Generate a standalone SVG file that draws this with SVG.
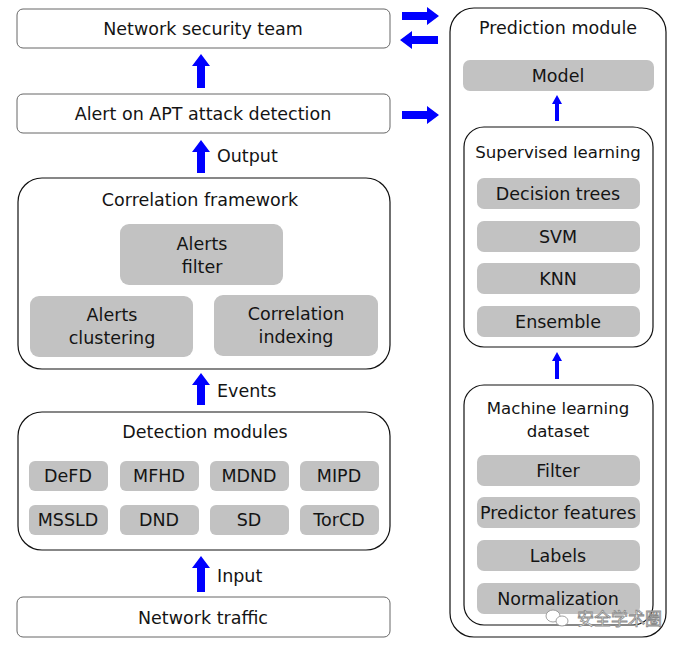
<svg xmlns="http://www.w3.org/2000/svg" width="679" height="648" viewBox="0 0 679 648">
<style>
text{font-family:"DejaVu Sans","Liberation Sans",sans-serif;font-size:17.5px;fill:#141414;text-anchor:middle}
.lbl{text-anchor:start}
.sm{font-size:16.6px}
.wbox{fill:#fff;stroke:#666;stroke-width:1}
.cont{fill:#fff;stroke:#111;stroke-width:1.2}
.grey{fill:#c2c2c2}
.arr{fill:#0000ff}
.wm{font-family:"Noto Sans CJK SC",sans-serif;font-size:17px;fill:#fff;stroke:#8a8a8a;stroke-width:0.8;text-anchor:start}
</style>
<rect width="679" height="648" fill="#fff"/>
<g id="team"><rect class="wbox" x="17" y="9" width="373" height="39" rx="6"/><text x="203" y="35">Network security team</text></g>
<g id="alert"><rect class="wbox" x="17" y="94" width="373" height="39" rx="6"/><text x="203" y="120">Alert on APT attack detection</text></g>
<g id="correlation"><rect class="cont" x="18" y="178" width="372" height="191" rx="24"/><text x="200" y="206">Correlation framework</text>
<g id="filter"><rect class="grey" x="120" y="224" width="163" height="61" rx="9"/><text x="202" y="250">Alerts</text><text x="202" y="273">filter</text></g>
<g id="clustering"><rect class="grey" x="30" y="296" width="163" height="61" rx="9"/><text x="112" y="321">Alerts</text><text x="112" y="344">clustering</text></g>
<g id="indexing"><rect class="grey" x="214" y="295" width="164" height="61" rx="9"/><text x="296" y="320">Correlation</text><text x="296" y="343">indexing</text></g>
</g>
<g id="detection"><rect class="cont" x="18" y="412" width="372" height="138" rx="24"/><text x="205" y="438">Detection modules</text>
<g id="defd"><rect class="grey" x="29" y="461" width="79" height="30" rx="6"/><text x="68" y="482">DeFD</text></g>
<g id="mfhd"><rect class="grey" x="120" y="461" width="79" height="30" rx="6"/><text x="159" y="482">MFHD</text></g>
<g id="mdnd"><rect class="grey" x="210" y="461" width="79" height="30" rx="6"/><text x="249" y="482">MDND</text></g>
<g id="mipd"><rect class="grey" x="300" y="461" width="79" height="30" rx="6"/><text x="339" y="482">MIPD</text></g>
<g id="mssld"><rect class="grey" x="29" y="505" width="79" height="30" rx="6"/><text x="68" y="526">MSSLD</text></g>
<g id="dnd"><rect class="grey" x="120" y="505" width="79" height="30" rx="6"/><text x="159" y="526">DND</text></g>
<g id="sd"><rect class="grey" x="210" y="505" width="79" height="30" rx="6"/><text x="249" y="526">SD</text></g>
<g id="torcd"><rect class="grey" x="300" y="505" width="79" height="30" rx="6"/><text x="339" y="526">TorCD</text></g>
</g>
<g id="traffic"><rect class="wbox" x="17" y="597" width="373" height="40" rx="6"/><text x="203" y="624">Network traffic</text></g>
<g id="prediction"><rect class="cont" x="450" y="8" width="216" height="629" rx="24"/><text x="558" y="34">Prediction module</text>
<g id="model"><rect class="grey" x="463" y="60" width="191" height="31" rx="7"/><text x="558" y="82">Model</text></g>
<g id="supervised"><rect class="cont" x="464" y="127" width="189" height="220" rx="20"/><text class="sm" x="558" y="158">Supervised learning</text>
<g id="dt"><rect class="grey" x="477" y="178" width="163" height="31" rx="7"/><text x="558" y="200">Decision trees</text></g>
<g id="svm"><rect class="grey" x="477" y="221" width="163" height="31" rx="7"/><text x="558" y="243">SVM</text></g>
<g id="knn"><rect class="grey" x="477" y="263" width="163" height="31" rx="7"/><text x="558" y="285">KNN</text></g>
<g id="ensemble"><rect class="grey" x="477" y="306" width="163" height="31" rx="7"/><text x="558" y="328">Ensemble</text></g>
</g>
<g id="dataset"><rect class="cont" x="464" y="385" width="189" height="240" rx="20"/><text class="sm" x="558" y="414">Machine learning</text><text class="sm" x="558" y="437">dataset</text>
<g id="dfilter"><rect class="grey" x="477" y="455" width="163" height="31" rx="7"/><text x="558" y="477">Filter</text></g>
<g id="features"><rect class="grey" x="477" y="497" width="163" height="31" rx="7"/><text x="558" y="519">Predictor features</text></g>
<g id="labels"><rect class="grey" x="477" y="540" width="163" height="31" rx="7"/><text x="558" y="562">Labels</text></g>
<g id="norm"><rect class="grey" x="477" y="583" width="163" height="31" rx="7"/><text x="558" y="605">Normalization</text></g>
</g>
</g>
<g id="connectors">
<path class="arr" d="M201,54 L210,66 L205,66 L205,88 L197,88 L197,66 L192,66 Z"/>
<path class="arr" d="M201,140 L210,152 L205,152 L205,173 L197,173 L197,152 L192,152 Z"/>
<text class="lbl" x="217" y="162">Output</text>
<path class="arr" d="M201,373 L210,385 L205,385 L205,405 L197,405 L197,385 L192,385 Z"/>
<text class="lbl" x="217" y="397">Events</text>
<path class="arr" d="M201,556 L210,568 L205,568 L205,592 L197,592 L197,568 L192,568 Z"/>
<text class="lbl" x="217" y="582">Input</text>
<path class="arr" d="M439,16 L427,7 L427,12 L402,12 L402,20 L427,20 L427,25 Z"/>
<path class="arr" d="M400,40 L412,31 L412,36 L438,36 L438,44 L412,44 L412,49 Z"/>
<path class="arr" d="M439,115 L427,106 L427,111 L402,111 L402,119 L427,119 L427,124 Z"/>
<path class="arr" d="M557,95 L562,104 L559,104 L559,121 L555,121 L555,104 L552,104 Z"/>
<path class="arr" d="M557,352 L562,361 L559,361 L559,379 L555,379 L555,361 L552,361 Z"/>
</g>
<g id="watermark">
<ellipse cx="553" cy="616" rx="7" ry="6" fill="#fff" stroke="#8a8a8a" stroke-width="0.8"/>
<ellipse cx="562" cy="621" rx="6" ry="5" fill="#fff" stroke="#8a8a8a" stroke-width="0.8"/>
<text class="wm" x="577" y="625">安全学术圈</text>
</g>
</svg>
